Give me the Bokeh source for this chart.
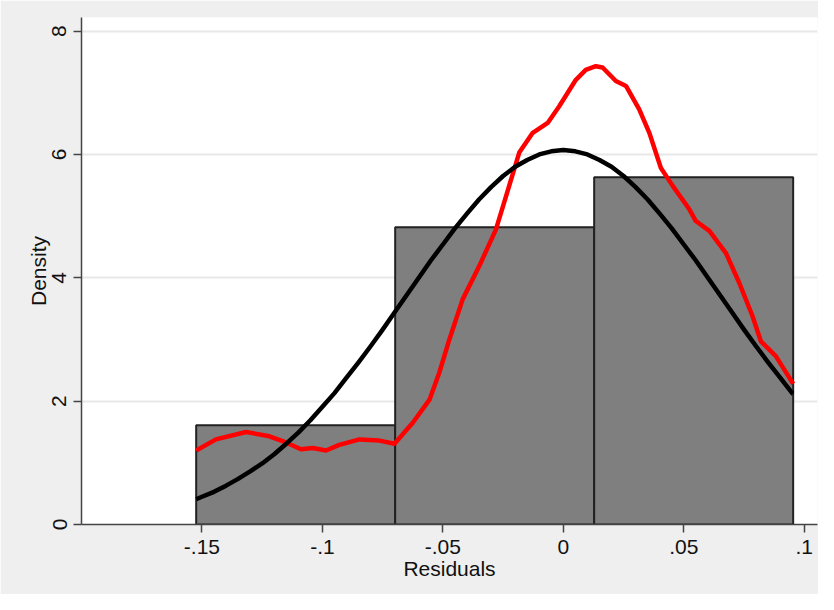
from bokeh.plotting import figure
from bokeh.models import FixedTicker
from bokeh.embed import file_html
from bokeh.resources import INLINE

# Histogram bins (density)
bin_left = [-0.1524, -0.0698, 0.0128]
bin_right = [-0.0698, 0.0128, 0.0954]
bin_density = [1.61, 4.82, 5.63]

# Normal density curve
norm_x = [-0.1524, -0.15, -0.145, -0.14, -0.135, -0.13, -0.125, -0.12, -0.115, -0.11,
          -0.105, -0.10, -0.095, -0.09, -0.085, -0.08, -0.075, -0.07, -0.065, -0.06,
          -0.055, -0.05, -0.045, -0.04, -0.035, -0.03, -0.025, -0.02, -0.015, -0.01,
          -0.005, 0.0, 0.005, 0.01, 0.015, 0.02, 0.025, 0.03, 0.035, 0.04,
          0.045, 0.05, 0.055, 0.06, 0.065, 0.07, 0.075, 0.08, 0.085, 0.09,
          0.095, 0.0954]
norm_y = [0.41, 0.45, 0.53, 0.63, 0.74, 0.86, 0.99, 1.14, 1.31, 1.49,
          1.69, 1.91, 2.13, 2.38, 2.63, 2.89, 3.16, 3.44, 3.72, 4.00,
          4.28, 4.54, 4.80, 5.04, 5.27, 5.47, 5.65, 5.80, 5.91, 6.00,
          6.05, 6.07, 6.05, 6.00, 5.91, 5.80, 5.65, 5.47, 5.27, 5.04,
          4.80, 4.54, 4.28, 4.00, 3.72, 3.44, 3.16, 2.89, 2.63, 2.38,
          2.13, 2.12]

# Kernel density curve
kde_x = [-0.1524, -0.1442, -0.1317, -0.122, -0.1151, -0.1089, -0.104, -0.0985, -0.093,
         -0.0846, -0.0763, -0.0701, -0.0625, -0.0556, -0.0515, -0.0473, -0.0418, -0.0349,
         -0.028, -0.0238, -0.0183, -0.0127, -0.0065, -0.0017, 0.0052, 0.0093, 0.0135,
         0.0163, 0.0218, 0.026, 0.0315, 0.0357, 0.0405, 0.0454, 0.0523, 0.055, 0.0606,
         0.0675, 0.073, 0.0785, 0.082, 0.0882, 0.0954]
kde_y = [1.20, 1.38, 1.50, 1.43, 1.33, 1.22, 1.24, 1.20, 1.29,
         1.38, 1.36, 1.31, 1.65, 2.02, 2.46, 3.00, 3.65, 4.19,
         4.78, 5.32, 6.03, 6.35, 6.51, 6.78, 7.21, 7.37, 7.43,
         7.41, 7.19, 7.11, 6.73, 6.35, 5.78, 5.49, 5.11, 4.92, 4.76,
         4.40, 3.92, 3.38, 2.97, 2.73, 2.28]

x_ticks = [-0.15, -0.1, -0.05, 0.0, 0.05, 0.1]
x_tick_labels = ["-.15", "-.1", "-.05", "0", ".05", ".1"]
y_ticks = [0, 2, 4, 6, 8]

FONT = "Liberation Sans"
FS = "21px"

p = figure(width=818, height=594, x_range=(-0.2, 0.1055), y_range=(0, 8.22),
           output_backend="svg", toolbar_location=None,
           min_border_left=81, min_border_right=1, min_border_top=17, min_border_bottom=70)

p.background_fill_color = "white"
p.border_fill_color = "#EFEFEF"
p.outline_line_color = None

p.quad(left=bin_left, right=bin_right, top=bin_density, bottom=0,
       fill_color="#7F7F7F", line_color="#222222", line_width=2)

p.line(kde_x, kde_y, line_color="#FF0000", line_width=4.5, line_join="round")
p.line(norm_x, norm_y, line_color="black", line_width=4.5, line_join="round")

p.xgrid.visible = False
p.ygrid.grid_line_color = "#E8E8E8"
p.ygrid.grid_line_width = 2

p.xaxis.ticker = FixedTicker(ticks=x_ticks)
p.xaxis.major_label_overrides = {t: l for t, l in zip(x_ticks, x_tick_labels)}
p.yaxis.ticker = FixedTicker(ticks=y_ticks)
p.ygrid.ticker = FixedTicker(ticks=y_ticks)

for ax in (p.xaxis[0], p.yaxis[0]):
    ax.axis_line_color = "#444444"
    ax.axis_line_width = 1.5
    ax.major_tick_line_color = "#444444"
    ax.major_tick_line_width = 1.5
    ax.major_tick_in = 0
    ax.major_tick_out = 8
    ax.minor_tick_line_color = None
    ax.major_label_text_font = FONT
    ax.major_label_text_font_size = FS
    ax.major_label_text_color = "#111111"
    ax.axis_label_text_font = FONT
    ax.axis_label_text_font_size = FS
    ax.axis_label_text_font_style = "normal"
    ax.axis_label_text_color = "#111111"
    ax.major_label_standoff = 7
    ax.axis_label_standoff = 0

p.xaxis.axis_label = "Residuals"
p.yaxis.axis_label = "Density"
p.yaxis.major_label_orientation = "vertical"

open("out.html", "w").write(file_html(p, INLINE))
